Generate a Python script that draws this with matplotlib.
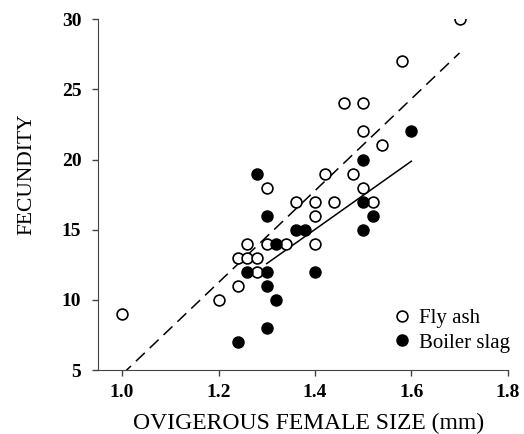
import numpy as np
import matplotlib
matplotlib.use("Agg")
import matplotlib.pyplot as plt

# fly ash (open circles)
fly_x = [1.0, 1.2, 1.24, 1.24, 1.26, 1.28, 1.26, 1.28, 1.3, 1.3, 1.34, 1.36, 1.4, 1.4, 1.4,
         1.44, 1.5, 1.52, 1.7, 1.58, 1.46, 1.5, 1.5, 1.54, 1.42, 1.48]
fly_y = [9, 10, 11, 13, 13, 13, 14, 12, 14, 18, 14, 17, 17, 16, 14,
         17, 18, 17, 30, 27, 24, 24, 22, 21, 19, 19]

# boiler slag (filled circles)
slag_x = [1.3, 1.32, 1.36, 1.38, 1.26, 1.3, 1.3, 1.32, 1.3, 1.24, 1.4, 1.5, 1.52, 1.5,
          1.28, 1.5, 1.6]
slag_y = [16, 14, 15, 15, 12, 12, 11, 10, 8, 7, 12, 17, 16, 15,
          19, 20, 22]

# regression lines: slope, intercept, x range
fly_fit = (32.7, -28.0)
fly_range = (1.0, 1.7)
slag_fit = (24.3, -19.0)
slag_range = (1.3, 1.6)

plt.rcParams["font.family"] = ["Liberation Serif", "DejaVu Serif"]

fig = plt.figure(figsize=(5.24, 4.34), dpi=100)
ax = fig.add_axes([0.187, 0.147, 0.782, 0.809])

fx = np.array(fly_range)
ax.plot(fx, fly_fit[0] * fx + fly_fit[1], color="black", lw=1.1,
        dashes=(8, 4.5), zorder=1)
sx = np.array(slag_range)
ax.plot(sx, slag_fit[0] * sx + slag_fit[1], color="black", lw=1.1, zorder=1)

ax.plot(fly_x, fly_y, "o", ms=7.8, mfc="white", mec="black", mew=1.2,
        ls="none", label="Fly ash", zorder=2)
ax.plot(slag_x, slag_y, "o", ms=7.8, mfc="black", mec="black", mew=1.2,
        ls="none", label="Boiler slag", zorder=3)

ax.set_xlim(0.95, 1.8)
ax.set_ylim(5, 30)
ax.set_xticks([1.0, 1.2, 1.4, 1.6, 1.8])
ax.set_yticks([5, 10, 15, 20, 25, 30])
ax.set_xticklabels(["1.0", "1.2", "1.4", "1.6", "1.8"])
for lab in ax.get_xticklabels() + ax.get_yticklabels():
    lab.set_fontweight("bold")
ax.tick_params(labelsize=14, length=4, width=1, direction="out", color="#444444")
ax.tick_params(axis="x", pad=6)
ax.tick_params(axis="y", pad=8)

ax.spines["top"].set_visible(False)
ax.spines["right"].set_visible(False)
ax.spines["left"].set_color("#444444")
ax.spines["bottom"].set_color("#444444")

ax.set_xlabel("OVIGEROUS FEMALE SIZE (mm)", fontsize=17)
ax.xaxis.set_label_coords(0.515, -0.121)
ax.set_ylabel("FECUNDITY", fontsize=15.5)
ax.yaxis.set_label_coords(-0.151, 0.558)

ax.legend(loc="lower right", frameon=False, fontsize=15, handletextpad=0.2,
          borderaxespad=0.2, labelspacing=0.25, handlelength=1.2,
          borderpad=0.3, bbox_to_anchor=(1.03, 0.02))

fig.savefig("out.png", dpi=100)
